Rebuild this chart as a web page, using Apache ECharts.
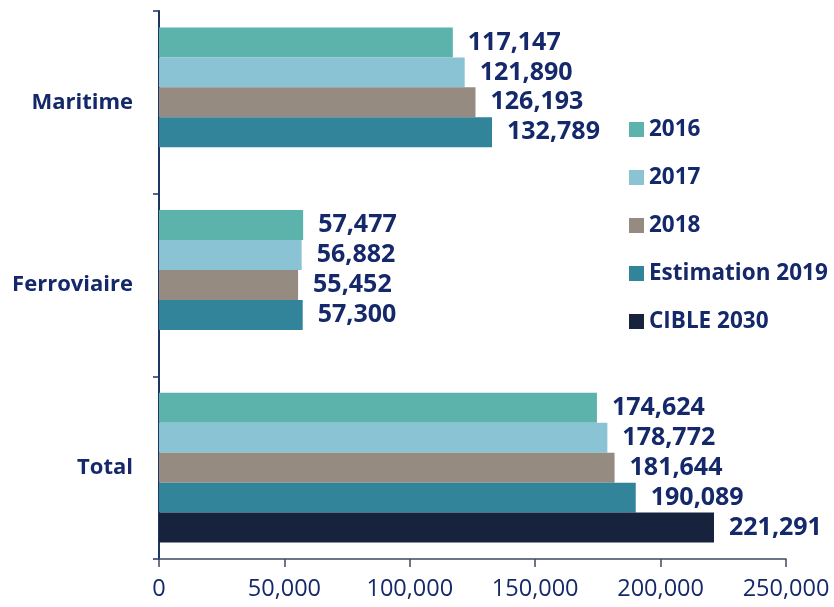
<!DOCTYPE html>
<html>
<head>
<meta charset="utf-8">
<script src="https://cdn.jsdelivr.net/npm/echarts@6/dist/echarts.min.js"></script>
<style>html,body{margin:0;padding:0;background:#fff}#c{width:834px;height:607px}</style>
</head>
<body>
<div id="c"></div>
<script>
var categories = ['Maritime', 'Ferroviaire', 'Total'];
var seriesNames = ['2016', '2017', '2018', 'Estimation 2019', 'CIBLE 2030'];
var v2016 = [117147, 57477, 174624];
var v2017 = [121890, 56882, 178772];
var v2018 = [126193, 55452, 181644];
var v2019 = [132789, 57300, 190089];
var v2030 = [null, null, 221291];
var xTicks = [0, 50000, 100000, 150000, 200000, 250000];

var colors = ['#5BB3AB', '#8AC4D4', '#958B81', '#32849B', '#17233D'];
var navy = '#15296A';
var FONT = "'Open Sans', sans-serif";
var fmt = function (v) { return Number(v).toLocaleString('en-US'); };

var values = [v2016, v2017, v2018, v2019, v2030];
var series = seriesNames.map(function (n, i) {
  return {
    name: n,
    type: 'bar',
    data: values[i],
    barGap: '0%',
    barCategoryGap: '18%',
    itemStyle: { color: colors[i] },
    label: {
      show: true, position: 'right', distance: 15,
      color: navy, fontFamily: FONT, fontWeight: 'bold', fontSize: 25,
      formatter: function (p) { return fmt(p.value); }
    }
  };
});

var chart = echarts.init(document.getElementById('c'));
chart.setOption({
  animation: false,
  color: colors,
  grid: { left: 159, right: 48, top: 11, bottom: 48, containLabel: false },
  legend: {
    orient: 'vertical', left: 624, top: 113,
    itemWidth: 15, itemHeight: 15, itemGap: 25,
    icon: 'rect',
    data: seriesNames,
    textStyle: { color: navy, fontFamily: FONT, fontWeight: 'bold', fontSize: 22.5, lineHeight: 20 }
  },
  xAxis: {
    type: 'value', min: xTicks[0], max: xTicks[xTicks.length - 1], interval: 50000,
    splitLine: { show: false },
    axisLine: { show: true, lineStyle: { color: '#3E4A5C', width: 1.5 } },
    axisTick: { show: true, length: 8, lineStyle: { color: '#3E4A5C', width: 1.5 } },
    axisLabel: {
      color: navy, fontFamily: FONT, fontSize: 23.5, margin: 18,
      formatter: function (v) { return fmt(v); }
    }
  },
  yAxis: {
    type: 'category', data: categories, inverse: true,
    axisLine: { show: true, lineStyle: { color: '#1F3564', width: 2 } },
    axisTick: { show: true, length: 6, lineStyle: { color: '#1F3564', width: 1.5 } },
    axisLabel: { color: navy, fontFamily: FONT, fontWeight: 'bold', fontSize: 22, margin: 26 }
  },
  series: series
});
</script>
</body>
</html>
